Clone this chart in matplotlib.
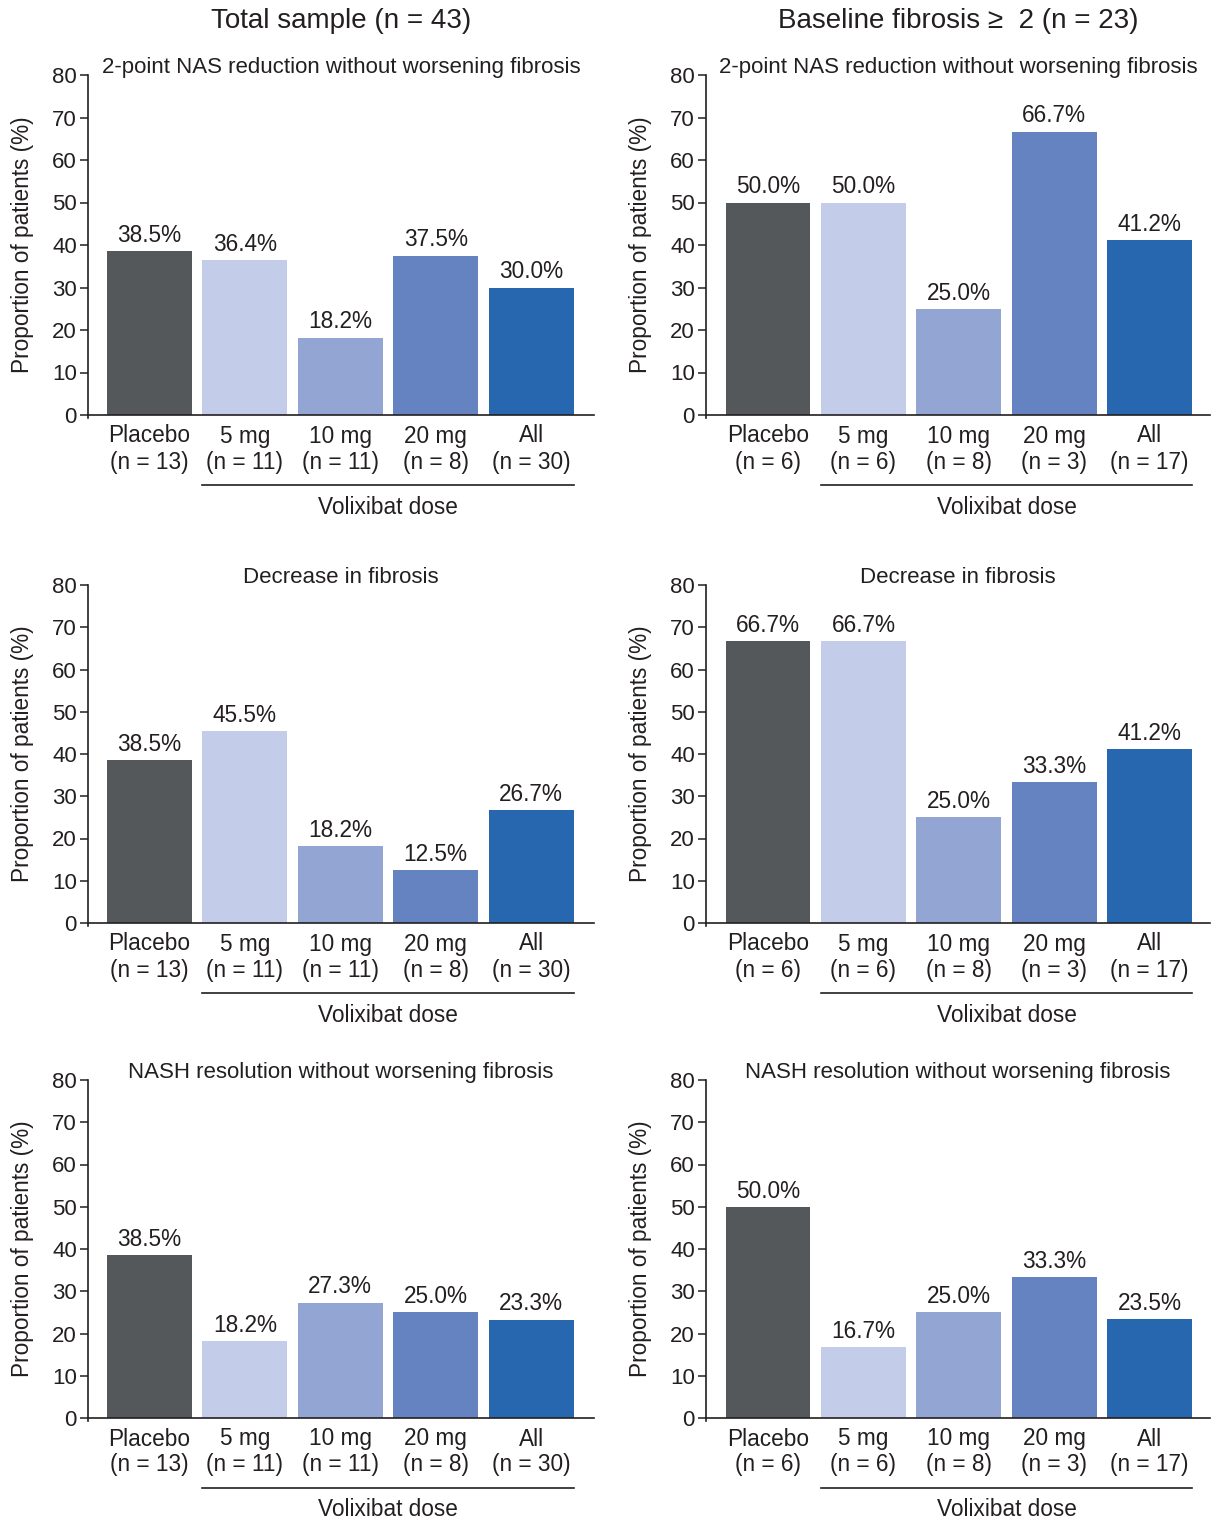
import matplotlib
matplotlib.use("Agg")
import matplotlib.pyplot as plt

plt.rcParams['font.family'] = ['Liberation Sans', 'DejaVu Sans']

# ---- data ----
dose_labels = ["Placebo", "5 mg", "10 mg", "20 mg", "All"]
n_total = [13, 11, 11, 8, 30]
n_fib2 = [6, 6, 8, 3, 17]

nas_total = [38.5, 36.4, 18.2, 37.5, 30.0]
fib_total = [38.5, 45.5, 18.2, 12.5, 26.7]
nash_total = [38.5, 18.2, 27.3, 25.0, 23.3]

nas_fib2 = [50.0, 50.0, 25.0, 66.7, 41.2]
fib_fib2 = [66.7, 66.7, 25.0, 33.3, 41.2]
nash_fib2 = [50.0, 16.7, 25.0, 33.3, 23.5]

column_titles = ["Total sample (n = 43)", "Baseline fibrosis \u2265  2 (n = 23)"]
panel_titles = ["2-point NAS reduction without worsening fibrosis",
                "Decrease in fibrosis",
                "NASH resolution without worsening fibrosis"]
y_ticks = [0, 10, 20, 30, 40, 50, 60, 70, 80]
ylabel = "Proportion of patients (%)"
group_label = "Volixibat dose"

bar_colors = ["#54585a", "#c3cce9", "#92a5d3", "#6683c1", "#2667b0"]
text_color = "#231f20"

# ---- layout (pixels) ----
W, H = 1213, 1523
fig = plt.figure(figsize=(W / 100, H / 100), dpi=100)

col_x = [(88, 594, 149.5), (706, 1210, 768.0)]   # axis left, axis right, first bar centre
row_y = [(75, 415), (585, 923), (1080, 1418)]    # y=80 pixel, y=0 pixel
step = 95.4
bar_w = 0.89
fs = 16.3

columns = [
    (n_total, [nas_total, fib_total, nash_total]),
    (n_fib2, [nas_fib2, fib_fib2, nash_fib2]),
]

for ci, (ns, series) in enumerate(columns):
    xl, xr, c0 = col_x[ci]
    for ri, vals in enumerate(series):
        yt, yb = row_y[ri]
        pw, ph = (xr - xl), (yb - yt)
        ax = fig.add_axes([xl / W, 1 - yb / H, pw / W, ph / H])
        ax.set_xlim((xl - c0) / step, (xr - c0) / step)
        ax.set_ylim(0, 80)
        xs = list(range(len(vals)))
        ax.bar(xs, vals, width=bar_w, color=bar_colors, linewidth=0, zorder=2)
        for x, v in zip(xs, vals):
            ax.annotate(f"{v:.1f}%", (x, v), xytext=(0, 3), textcoords="offset points",
                        ha="center", va="bottom", fontsize=fs, color=text_color)

        for s in ("top", "right"):
            ax.spines[s].set_visible(False)
        ax.spines["left"].set_bounds(-0.8, 80)
        for s in ("left", "bottom"):
            ax.spines[s].set_color(text_color)
            ax.spines[s].set_linewidth(1.2)
        ax.set_yticks(y_ticks)
        ax.tick_params(axis="y", direction="out", length=6, width=1.1,
                       color=text_color, labelsize=16, labelcolor=text_color, pad=2)
        ax.set_xticks([])
        ax.set_ylabel(ylabel, fontsize=fs, color=text_color)
        ax.yaxis.set_label_coords(-54 / pw, 0.5)

        # two-line category labels
        for x, lab, n in zip(xs, dose_labels, ns):
            ax.annotate(lab, (x, 0), xycoords=("data", "axes fraction"),
                        xytext=(0, -21 * 0.72), textcoords="offset points",
                        ha="center", va="center", fontsize=fs, color=text_color)
            ax.annotate(f"(n = {n})", (x, 0), xycoords=("data", "axes fraction"),
                        xytext=(0, -47 * 0.72), textcoords="offset points",
                        ha="center", va="center", fontsize=fs, color=text_color)

        # bracket under the active doses
        ax.plot([1 - bar_w / 2, 4 + bar_w / 2], [-70 / ph, -70 / ph],
                transform=ax.get_xaxis_transform(), color=text_color,
                linewidth=1.2, clip_on=False)
        ax.text(2.5, -92 / ph, group_label, transform=ax.get_xaxis_transform(),
                ha="center", va="center", fontsize=fs, color=text_color)

        # panel title
        ax.text(0.5, 1 + 8 / ph, panel_titles[ri],
                transform=ax.transAxes, ha="center", va="center",
                fontsize=16, color=text_color)

    fig.text(((xl + xr) / 2) / W, 1 - 21 / H, column_titles[ci],
             ha="center", va="center", fontsize=20, color=text_color)

fig.savefig("out.png", dpi=100, facecolor="white")
